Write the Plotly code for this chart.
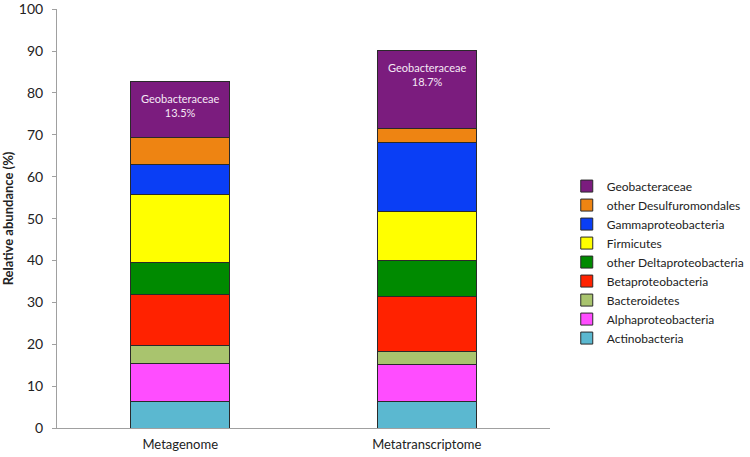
import plotly.graph_objects as go

categories = ["Metagenome", "Metatranscriptome"]
taxa = ["Actinobacteria", "Alphaproteobacteria", "Bacteroidetes", "Betaproteobacteria",
        "other Deltaproteobacteria", "Firmicutes", "Gammaproteobacteria",
        "other Desulfuromondales", "Geobacteraceae"]
metagenome = [6.4, 8.9, 4.5, 12.0, 7.8, 16.1, 7.3, 6.3, 13.5]
metatranscriptome = [6.3, 8.8, 3.1, 13.2, 8.5, 11.8, 16.5, 3.3, 18.7]
colors = ["#5BB8D0", "#FF4DFF", "#A9C46E", "#FF2200", "#008A00",
          "#FFFF00", "#0A3EF5", "#EE8412", "#7B1C7E"]
y_ticks = [0, 10, 20, 30, 40, 50, 60, 70, 80, 90, 100]

FONT = "Lato, 'Open Sans', sans-serif"

fig = go.Figure()
for i, name in enumerate(taxa):
    fig.add_trace(go.Bar(
        x=categories, y=[metagenome[i], metatranscriptome[i]], name=name,
        marker=dict(color=colors[i], line=dict(color="#2a2a2a", width=1)),
        width=0.4,
    ))

totals = [sum(metagenome), sum(metatranscriptome)]
geo_vals = [metagenome[-1], metatranscriptome[-1]]
for c, t, g in zip(categories, totals, geo_vals):
    fig.add_annotation(x=c, y=t, yshift=-9, yanchor="top", showarrow=False,
                       text=f"Geobacteraceae<br>{g}%", align="center",
                       font=dict(family=FONT, size=11, color="#F5E8F5"))

fig.update_layout(
    width=750, height=457,
    margin=dict(l=57, r=200, t=9, b=29, autoexpand=False),
    barmode="stack", bargap=0.6,
    plot_bgcolor="white", paper_bgcolor="white",
    font=dict(family=FONT, size=13, color="#222"),
    showlegend=True,
    legend=dict(traceorder="reversed", x=1.034, xanchor="left", y=0.396, yanchor="middle",
                font=dict(family=FONT, size=12, color="#222"), tracegroupgap=0,
                itemwidth=30),
    xaxis=dict(showline=True, linecolor="#a0a0a0", linewidth=1, ticks="",
               tickfont=dict(size=13), ticklabelstandoff=4, automargin=False),
    yaxis=dict(range=[0, 100.05], tickvals=y_ticks, showline=True, linecolor="#a0a0a0",
               linewidth=1, ticks="outside", ticklen=4, tickcolor="#a0a0a0", showgrid=False,
               zeroline=False, tickfont=dict(size=14), ticklabelstandoff=6,
               ticklabeloverflow="allow", automargin=False,
               title=dict(text="<b>Relative abundance (%)</b>", font=dict(size=13), standoff=2)),
)

fig.write_html("out.html", config={"displayModeBar": False},
               post_script="document.body.style.margin='0';")
